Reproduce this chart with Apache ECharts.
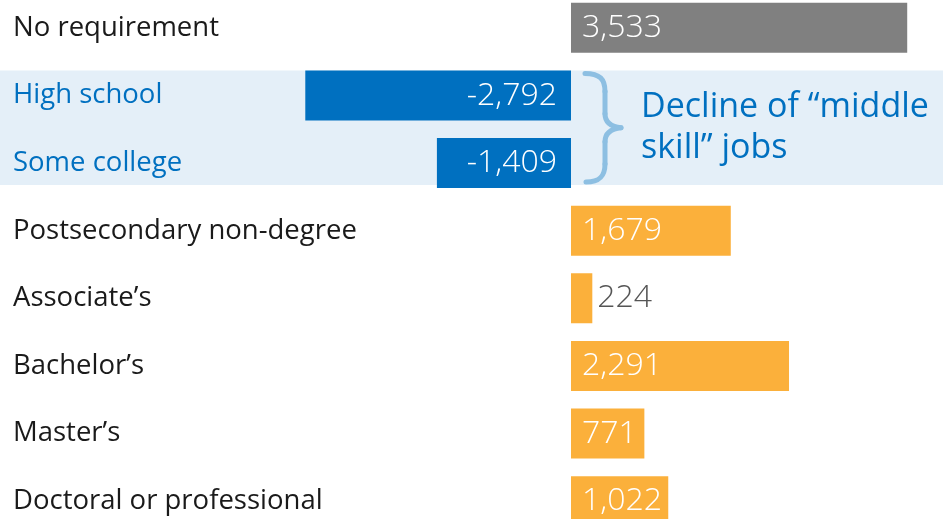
<!DOCTYPE html>
<html>
<head>
<meta charset="utf-8">
<script src="https://cdn.jsdelivr.net/npm/echarts@6/dist/echarts.min.js"></script>
<style>
  html, body { margin: 0; padding: 0; background: #fff; }
  #main { width: 943px; height: 519px; }
</style>
</head>
<body>
<div id="main"></div>
<script>
var categories = ['No requirement', 'High school', 'Some college', 'Postsecondary non-degree',
  "Associate\u2019s", "Bachelor\u2019s", "Master\u2019s", 'Doctoral or professional']
var values = [3533, -2792, -1409, 1679, 224, 2291, 771, 1022]
var groups = ['none', 'middle', 'middle', 'up', 'up', 'up', 'up', 'up']
var noteText = 'Decline of \u201cmiddle\nskill\u201d jobs'

var colors = { none: '#808080', middle: '#0070c0', up: '#fbb03b' }
var FONT = '"Open Sans", sans-serif'
var GAP = 0.26

var chart = echarts.init(document.getElementById('main'))

var barData = values.map(function (v, i) {
  var small = Math.abs(v) < 500
  return {
    value: v,
    itemStyle: { color: colors[groups[i]] },
    label: {
      position: v < 0 ? 'insideRight' : (small ? 'right' : 'insideLeft'),
      distance: small ? 5 : (v < 0 ? 14 : 11),
      color: small ? '#555555' : '#ffffff'
    }
  }
})

var option = {
  animation: false,
  grid: { left: 0, right: 0, top: -6, bottom: -16, outerBoundsMode: 'none' },
  xAxis: { type: 'value', min: -6000, max: 3909, show: false },
  yAxis: {
    type: 'category',
    inverse: true,
    data: categories.map(function (c, i) {
      return { value: c, textStyle: { color: groups[i] === 'middle' ? '#0070c0' : '#1a1a1a' } }
    }),
    axisLine: { show: false },
    axisTick: { show: false },
    axisLabel: { inside: true, margin: 13, fontSize: 27.5, fontFamily: FONT }
  },
  series: [{
    type: 'bar',
    data: barData,
    barCategoryGap: (GAP * 100) + '%',
    z: 2,
    label: {
      show: true,
      fontSize: 32,
      fontFamily: FONT,
      fontWeight: 300,
      formatter: function (p) { return echarts.format.addCommas(p.value) }
    }
  }]
}
chart.setOption(option)

// shaded band + brace for the "middle skill" rows
function drawNote() {
  var yA = chart.convertToPixel({ yAxisIndex: 0 }, categories[1])
  var yB = chart.convertToPixel({ yAxisIndex: 0 }, categories[2])
  var step = yB - yA
  var half = step * (1 - GAP) / 2
  var bandTop = yA - half, bandBottom = yB + half - 3, mid = (bandTop + bandBottom) / 2
  var x0 = chart.convertToPixel({ xAxisIndex: 0 }, 0)
  var bx = x0 + 14, sx = bx + 20, tip = bx + 36
  var t = bandTop + 3, b = bandBottom - 3
  var braceStyle = { fill: null, stroke: '#8dbfe2', lineWidth: 5, lineCap: 'round' }
  var curve = function (x1, y1, c1x, c1y, c2x, c2y, x2, y2) {
    return {
      type: 'bezierCurve', z: 5, silent: true,
      shape: { x1: x1, y1: y1, cpx1: c1x, cpy1: c1y, cpx2: c2x, cpy2: c2y, x2: x2, y2: y2 },
      style: braceStyle
    }
  }
  var line = function (x1, y1, x2, y2) {
    return { type: 'line', z: 5, silent: true, shape: { x1: x1, y1: y1, x2: x2, y2: y2 }, style: braceStyle }
  }

  chart.setOption({
    graphic: [
      {
        type: 'rect', z: -10, silent: true,
        shape: { x: 0, y: bandTop, width: chart.getWidth(), height: bandBottom - bandTop },
        style: { fill: '#e4eff8' }
      },
      curve(bx, t, bx + 15, t, sx, t + 6, sx, t + 18),
      line(sx, t + 18, sx, mid - 14),
      curve(sx, mid - 14, sx, mid - 5, sx + 7, mid - 1, tip, mid),
      curve(tip, mid, sx + 7, mid + 1, sx, mid + 5, sx, mid + 14),
      line(sx, mid + 14, sx, b - 18),
      curve(sx, b - 18, sx, b - 6, bx + 15, b, bx + 1, b),
      {
        type: 'text', z: 5, silent: true,
        x: x0 + 70, y: mid,
        style: {
          text: noteText, fill: '#0070c0', fontSize: 34, fontFamily: FONT,
          lineHeight: 41, verticalAlign: 'middle', align: 'left'
        }
      }
    ]
  })
}
drawNote()
</script>
</body>
</html>
